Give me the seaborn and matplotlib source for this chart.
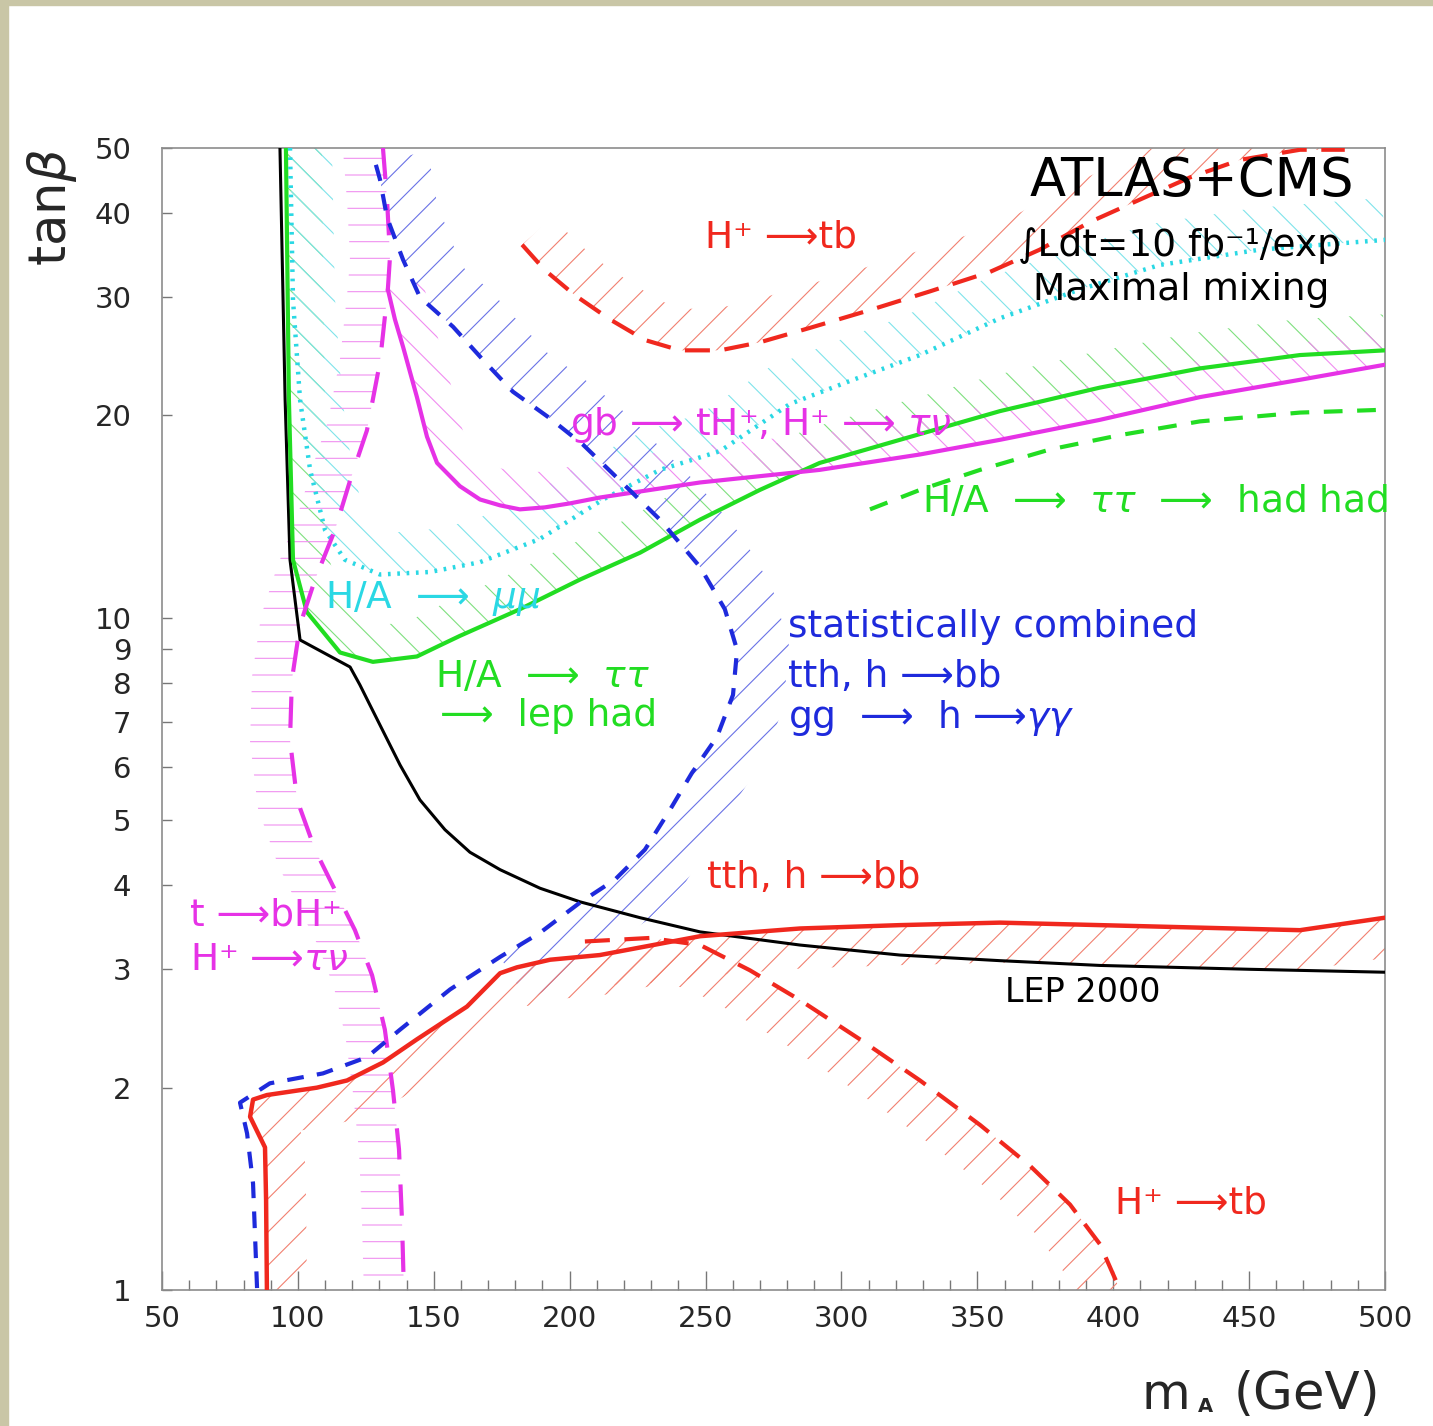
"""tanβ – m_A discovery contours (ATLAS+CMS, 10 fb^-1/exp, maximal mixing)."""
import numpy as np
import matplotlib
matplotlib.use("Agg")
import matplotlib.pyplot as plt
import seaborn as sns
from matplotlib.patches import Polygon, Rectangle
from matplotlib.ticker import FixedLocator, NullLocator, MultipleLocator

# ---------- data ----------
lep_x = [93.4, 95.3, 97.1, 100.8, 119.2, 122.8, 126.5, 132.0, 137.6, 144.9, 154.1, 163.3, 174.4,
         189.1, 203.8, 225.9, 248.0, 284.7, 321.5, 358.3, 395.0, 450.3, 500.0]
lep_y = [50.0, 21.1, 12.2, 9.27, 8.45, 7.95, 7.42, 6.70, 6.04, 5.36, 4.84, 4.48, 4.22,
         3.96, 3.78, 3.58, 3.41, 3.26, 3.15, 3.09, 3.04, 3.00, 2.97]

lephad_x = [95.6, 96.7, 98.2, 103.3, 115.5, 127.6, 143.8, 152.3, 159.6, 181.7, 203.8, 225.9, 248.0,
            270.0, 292.0, 321.5, 358.3, 395.0, 431.9, 468.7, 500.0]
lephad_y = [50.0, 21.1, 12.2, 10.2, 8.88, 8.6, 8.76, 9.1, 9.4, 10.3, 11.4, 12.5, 14.0,
            15.5, 17.0, 18.4, 20.3, 22.0, 23.5, 24.6, 25.0]

mumu_x = [97.1, 98.2, 100.8, 104.5, 110.0, 117.3, 130.2, 148.6, 167.0, 189.0, 212.3, 233.2, 255.3,
          281.0, 303.0, 328.9, 358.3, 387.7, 417.2, 454.0, 500.0]
mumu_y = [50.0, 29.7, 21.1, 16.6, 13.5, 12.2, 11.6, 11.7, 12.1, 13.1, 15.0, 16.6, 17.7,
          20.8, 22.5, 24.6, 27.9, 30.8, 33.5, 35.3, 36.5]

hadhad_x = [310.5, 328.9, 351.0, 376.7, 402.5, 431.9, 468.7, 500.0]
hadhad_y = [14.5, 15.5, 16.6, 17.8, 18.7, 19.6, 20.2, 20.4]

gbth_x = [133.1, 135.7, 138.7, 143.8, 147.5, 151.2, 159.6, 167.0, 174.4, 181.7, 190.9, 200.1,
          211.1, 248.0, 292.0, 328.9, 358.3, 395.0, 431.9, 468.7, 500.0]
gbth_y = [30.8, 27.8, 25.3, 21.3, 18.6, 17.0, 15.7, 15.0, 14.7, 14.5, 14.6, 14.8,
          15.1, 15.9, 16.6, 17.5, 18.4, 19.7, 21.3, 22.6, 23.8]

tbh_x = [131.3, 132.8, 133.9, 133.1, 130.2, 125.4, 119.2, 113.6, 106.3, 100.8, 97.8, 97.1, 99.7,
         106.3, 113.6, 121.0, 127.3, 132.0, 135.0, 137.2, 138.3, 139.0]
tbh_y = [50.0, 41.9, 34.5, 30.8, 24.0, 19.0, 16.0, 13.5, 11.4, 9.76, 8.09, 6.58, 5.36,
         4.52, 3.94, 3.43, 2.94, 2.44, 1.98, 1.62, 1.27, 1.0]

comb_x = [128.7, 130.2, 132.8, 138.7, 144.9, 157.1, 168.1, 179.1, 192.8, 204.9, 218.5, 233.2, 248.0,
          257.1, 261.6, 260.1, 254.2, 245.0, 236.9, 227.7, 216.7, 203.8, 189.1, 174.4, 156.0,
          137.6, 125.4, 109.2, 89.7, 78.7, 81.3, 83.5, 85.0]
comb_y = [47.2, 44.9, 39.4, 34.1, 30.0, 27.1, 24.2, 21.7, 19.8, 18.1, 16.0, 14.0, 11.9,
          10.3, 8.96, 7.68, 6.65, 5.88, 5.18, 4.52, 4.08, 3.77, 3.40, 3.13, 2.80,
          2.44, 2.22, 2.10, 2.03, 1.90, 1.71, 1.44, 1.0]

tth_x = [88.6, 88.3, 87.9, 82.4, 83.5, 88.6, 107.0, 118.1, 131.3, 143.8, 162.2, 174.4, 180.6,
         192.8, 211.1, 248.0, 284.7, 321.5, 358.3, 395.1, 431.9, 468.7, 500.0]
tth_y = [1.0, 1.36, 1.63, 1.81, 1.92, 1.95, 2.00, 2.05, 2.18, 2.36, 2.64, 2.96, 3.02,
         3.10, 3.15, 3.36, 3.45, 3.49, 3.52, 3.49, 3.46, 3.43, 3.58]

tb_low_x = [205.6, 229.5, 248.0, 266.3, 284.7, 306.8, 328.9, 351.0, 369.4, 384.1, 395.1, 402.5]
tb_low_y = [3.30, 3.34, 3.26, 2.99, 2.70, 2.36, 2.05, 1.76, 1.53, 1.34, 1.17, 1.0]

tb_up_x = [182.5, 190.9, 201.9, 214.8, 227.7, 240.6, 255.3, 270.0, 288.4, 310.5, 332.6, 354.6,
           373.0, 391.4, 409.8, 428.2, 446.6, 468.7, 485.2]
tb_up_y = [35.9, 32.9, 30.2, 27.8, 25.9, 25.0, 25.0, 25.7, 27.0, 28.7, 30.6, 32.7,
           35.3, 38.8, 41.9, 45.2, 48.0, 49.7, 49.7]

x_ticks = [50, 100, 150, 200, 250, 300, 350, 400, 450, 500]
y_ticks = [1, 2, 3, 4, 5, 6, 7, 8, 9, 10, 20, 30, 40, 50]

RED, GREEN, CYAN = "#f0281e", "#22dd22", "#2ad8e4"
MAGENTA, BLUE = "#e632e6", "#1e2adc"

# ---------- figure ----------
sns.set_theme(style="white")
plt.rcParams["font.family"] = ["DejaVu Sans"]
plt.rcParams["mathtext.fontset"] = "dejavusans"
plt.rcParams["hatch.linewidth"] = 0.8

W, H = 1433, 1426
AX_L, AX_R, AX_T, AX_B = 162, 1385, 148, 1290
fig = plt.figure(figsize=(W / 100, H / 100), dpi=100)
fig.patch.set_facecolor("white")
# beige slide frame on the left / top edge
fig.patches.append(Rectangle((0, 0), 8 / W, 1, transform=fig.transFigure, color="#c9c6a6", zorder=0))
fig.patches.append(Rectangle((0, 1 - 5 / H), 1, 5 / H, transform=fig.transFigure, color="#c9c6a6", zorder=0))

ax = fig.add_axes([AX_L / W, 1 - AX_B / H, (AX_R - AX_L) / W, (AX_B - AX_T) / H])
ax.set_yscale("log")
ax.set_xlim(50, 500)
ax.set_ylim(1, 50)


def band(xs, ys, width, side, hatch, color, start=0, stop=None):
    """hatched strip of `width` px on one side of the curve (side=+1 left of travel)."""
    pts = ax.transData.transform(np.column_stack([xs, ys])[start:stop])
    d = np.gradient(pts, axis=0)
    n = np.column_stack([-d[:, 1], d[:, 0]])
    n /= np.linalg.norm(n, axis=1, keepdims=True)
    off = pts + side * width * n
    poly = ax.transData.inverted().transform(np.vstack([pts, off[::-1]]))
    ax.add_patch(Polygon(poly, closed=True, fill=False, hatch=hatch,
                         edgecolor=color, linewidth=0, zorder=1))


band(lephad_x, lephad_y, 36, +1, "\\", "#7ee07e")
band(mumu_x, mumu_y, 42, +1, "\\", "#7fe3ea")
band(gbth_x, gbth_y, 36, +1, "\\", "#f08cf0")
band(tbh_x, tbh_y, 40, -1, "-", "#f090f0")
band(comb_x, comb_y, 52, +1, "/", "#6a72e6", stop=24)
band(tth_x, tth_y, 40, -1, "/", "#f28070")
band(tb_low_x, tb_low_y, 45, -1, "/", "#f28070")
band(tb_up_x, tb_up_y, 42, +1, "/", "#f28070")


def curve(xs, ys, color, lw, ls="-"):
    sns.lineplot(x=xs, y=ys, sort=False, estimator=None, color=color, linewidth=lw,
                 linestyle=ls, ax=ax, zorder=3)


curve(lep_x, lep_y, "black", 2.2)
curve(lephad_x, lephad_y, GREEN, 3.0)
curve(mumu_x, mumu_y, CYAN, 3.2, (0, (0.6, 1.5)))
curve(hadhad_x, hadhad_y, GREEN, 3.0, (0, (4.5, 3.5)))
curve(gbth_x, gbth_y, MAGENTA, 3.0)
curve(tbh_x, tbh_y, MAGENTA, 3.0, (0, (7.5, 6)))
curve(comb_x, comb_y, BLUE, 3.0, (0, (4, 3.2)))
curve(tth_x, tth_y, RED, 3.2)
curve(tb_low_x, tb_low_y, RED, 3.0, (0, (6, 3.5)))
curve(tb_up_x, tb_up_y, RED, 3.0, (0, (6, 3.5)))

ax.set_xlim(50, 500)
ax.set_ylim(1, 50)
ax.set_xlabel("")
ax.set_ylabel("")

# ticks
ax.xaxis.set_major_locator(FixedLocator(x_ticks))
ax.xaxis.set_minor_locator(MultipleLocator(10))
ax.yaxis.set_major_locator(FixedLocator(y_ticks))
ax.yaxis.set_minor_locator(NullLocator())
ax.set_xticklabels([str(v) for v in x_ticks])
ax.set_yticklabels([str(v) for v in y_ticks])
ax.tick_params(axis="x", which="major", direction="in", length=14, width=1, color="#777777",
               labelsize=21, pad=11, bottom=True, top=False)
ax.tick_params(axis="x", which="minor", direction="in", length=7, width=1, color="#777777",
               bottom=True, top=False)
ax.tick_params(axis="y", which="major", direction="in", length=7, width=1, color="#777777",
               labelsize=21, pad=22, left=True, right=False)
for sp in ax.spines.values():
    sp.set_color("#8c8c8c")
    sp.set_linewidth(1.2)


# ---------- labels ----------
def label(px, py, s, color, size=27):
    ax.text((px - AX_L) / (AX_R - AX_L), (AX_B - py) / (AX_B - AX_T), s, color=color,
            fontsize=size, ha="left", va="center", transform=ax.transAxes, zorder=5)


ARR = "\u27f6"
label(1030, 181, "ATLAS+CMS", "black", 38)
label(1018, 246, "\u222bLdt=10 fb\u207b\u00b9/exp", "black", 27)
label(1033, 290, "Maximal mixing", "black", 27)
label(705, 238, "H\u207a " + ARR + "tb", RED)
label(570, 425, "gb " + ARR + " tH\u207a, H\u207a " + ARR + r" $\tau\nu$", MAGENTA)
label(922, 502, "H/A  " + ARR + r"  $\tau\tau$  " + ARR + "  had had", GREEN)
label(325, 598, "H/A  " + ARR + r"  $\mu\mu$", CYAN)
label(788, 627, "statistically combined", BLUE)
label(788, 677, "tth, h " + ARR + "bb", BLUE)
label(788, 718, "gg  " + ARR + "  h " + ARR + r"$\gamma\gamma$", BLUE)
label(435, 677, "H/A  " + ARR + r"  $\tau\tau$", GREEN)
label(440, 716, ARR + "  lep had", GREEN)
label(707, 878, "tth, h " + ARR + "bb", RED)
label(190, 915, "t " + ARR + "bH\u207a", MAGENTA)
label(190, 960, "H\u207a " + ARR + r"$\tau\nu$", MAGENTA)
label(1005, 993, "LEP 2000", "black", 24)
label(1115, 1203, "H\u207a " + ARR + "tb", RED)

fig.text(52 / W, 1 - 207 / H, r"tan$\beta$", rotation=90, fontsize=37, ha="center", va="center")
fig.text(1142 / W, 1 - 1395 / H, "m", fontsize=36, ha="left", va="center")
fig.text(1198 / W, 1 - 1407 / H, "A", fontsize=14, fontweight="bold", ha="left", va="center")
fig.text(1380 / W, 1 - 1395 / H, "(GeV)", fontsize=37, ha="right", va="center")

fig.savefig("out.png", dpi=100)
